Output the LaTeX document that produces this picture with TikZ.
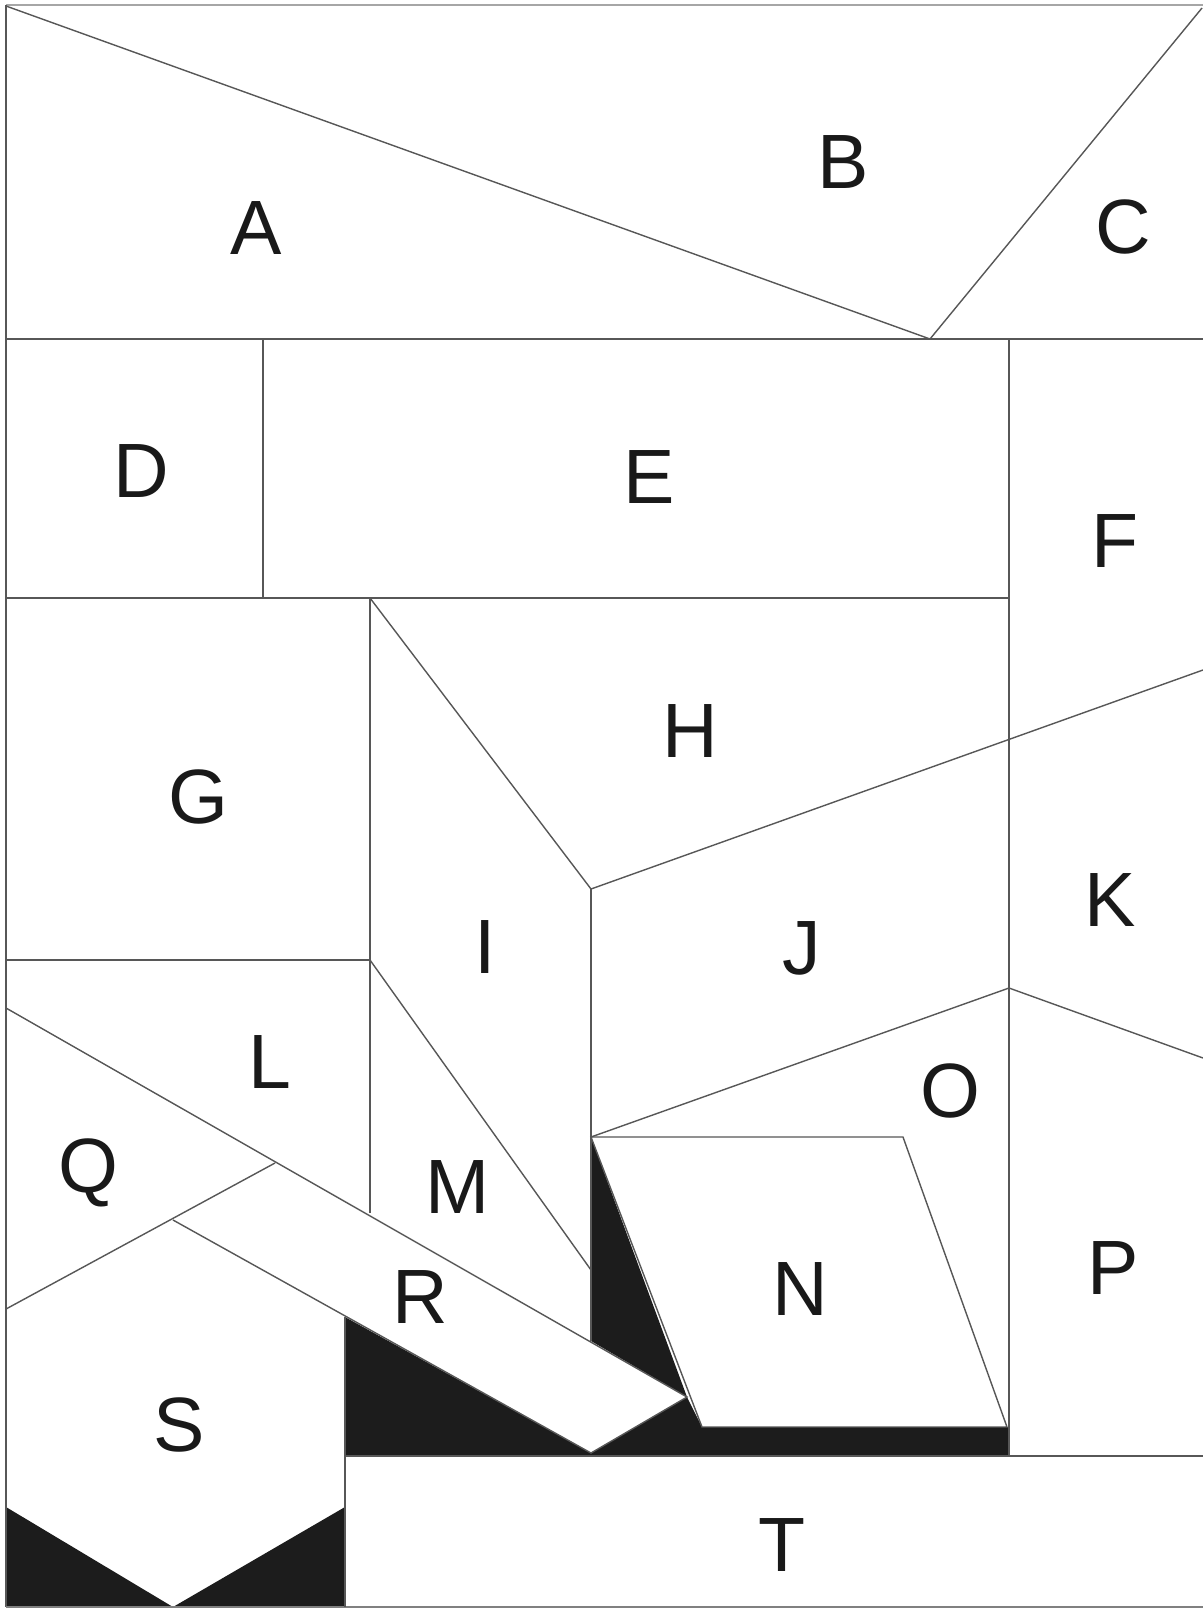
\documentclass[tikz,border=0pt]{standalone}
\usepackage{fontspec}
\setmainfont{Liberation Sans}
\begin{document}
\begin{tikzpicture}[x=0.5pt,y=-0.5pt,
  edge/.style={draw=black!66,line width=0.7pt},
  frametop/.style={draw=black!35,line width=1.3pt},
  blk/.style={fill=black!89,draw=none},
  lab/.style={anchor=base,inner sep=0pt,text=black!90,font=\fontsize{38.5pt}{40pt}\selectfont}]
\useasboundingbox (0,0) rectangle (1203,1608);
\fill[white] (0,0) rectangle (1203,1608);
% black fills
\fill[blk] (591,1137) -- (687,1397) -- (591,1341) -- cycle;
\fill[blk] (345,1317) -- (591,1453) -- (687,1397) -- (702,1427) -- (1009,1427) -- (1009,1456) -- (345,1456) -- cycle;
\fill[blk] (6,1507) -- (173,1607) -- (6,1607) -- cycle;
\fill[blk] (345,1507) -- (345,1607) -- (173,1607) -- cycle;
% frame
\draw[frametop] (6,5) -- (1203,5);
\draw[edge] (6,5) -- (6,1607);
\draw[edge,draw=black!50] (6,1607) -- (1203,1607);
% top band
\draw[edge] (6,6) -- (930,339) -- (1202,8);
\draw[edge] (6,339) -- (1203,339);
\draw[edge] (263,339) -- (263,598);
\draw[edge] (6,598) -- (1009,598);
\draw[edge] (1009,339) -- (1009,1456);
% middle
\draw[edge] (6,960) -- (370,960);
\draw[edge] (370,598) -- (370,1213);
\draw[edge] (370,598) -- (591,889) -- (1203,670);
\draw[edge] (591,889) -- (591,1341);
\draw[edge] (370,960) -- (591,1270);
\draw[edge] (591,1137) -- (1009,988) -- (1203,1058);
% N
\draw[edge] (591,1137) -- (903,1137) -- (1007,1427) -- (702,1427) -- cycle;
% R and Q/S
\draw[edge] (6,1008) -- (687,1397) -- (591,1453) -- (173,1220);
\draw[edge] (6,1309) -- (275,1163);
% T
\draw[edge] (345,1456) -- (1203,1456);
\draw[edge] (345,1317) -- (345,1607);
% labels
\node[lab] (lA) at (256,254) {A};
\node[lab] (lB) at (843,188) {B};
\node[lab] (lC) at (1123,253) {C};
\node[lab] (lD) at (141,497) {D};
\node[lab] (lE) at (649,503) {E};
\node[lab] (lF) at (1115,567) {F};
\node[lab] (lG) at (198,823) {G};
\node[lab] (lH) at (690,757) {H};
\node[lab] (lI) at (485,973) {I};
\node[lab] (lJ) at (802,974) {J};
\node[lab] (lK) at (1110,926) {K};
\node[lab] (lL) at (270,1088) {L};
\node[lab] (lM) at (458,1213) {M};
\node[lab] (lN) at (800,1315) {N};
\node[lab] (lO) at (950,1117) {O};
\node[lab] (lP) at (1113,1294) {P};
\node[lab] (lQ) at (88,1192) {Q};
\node[lab] (lR) at (420,1323) {R};
\node[lab] (lS) at (179,1451) {S};
\node[lab] (lT) at (782,1571) {T};
\end{tikzpicture}
\end{document}
